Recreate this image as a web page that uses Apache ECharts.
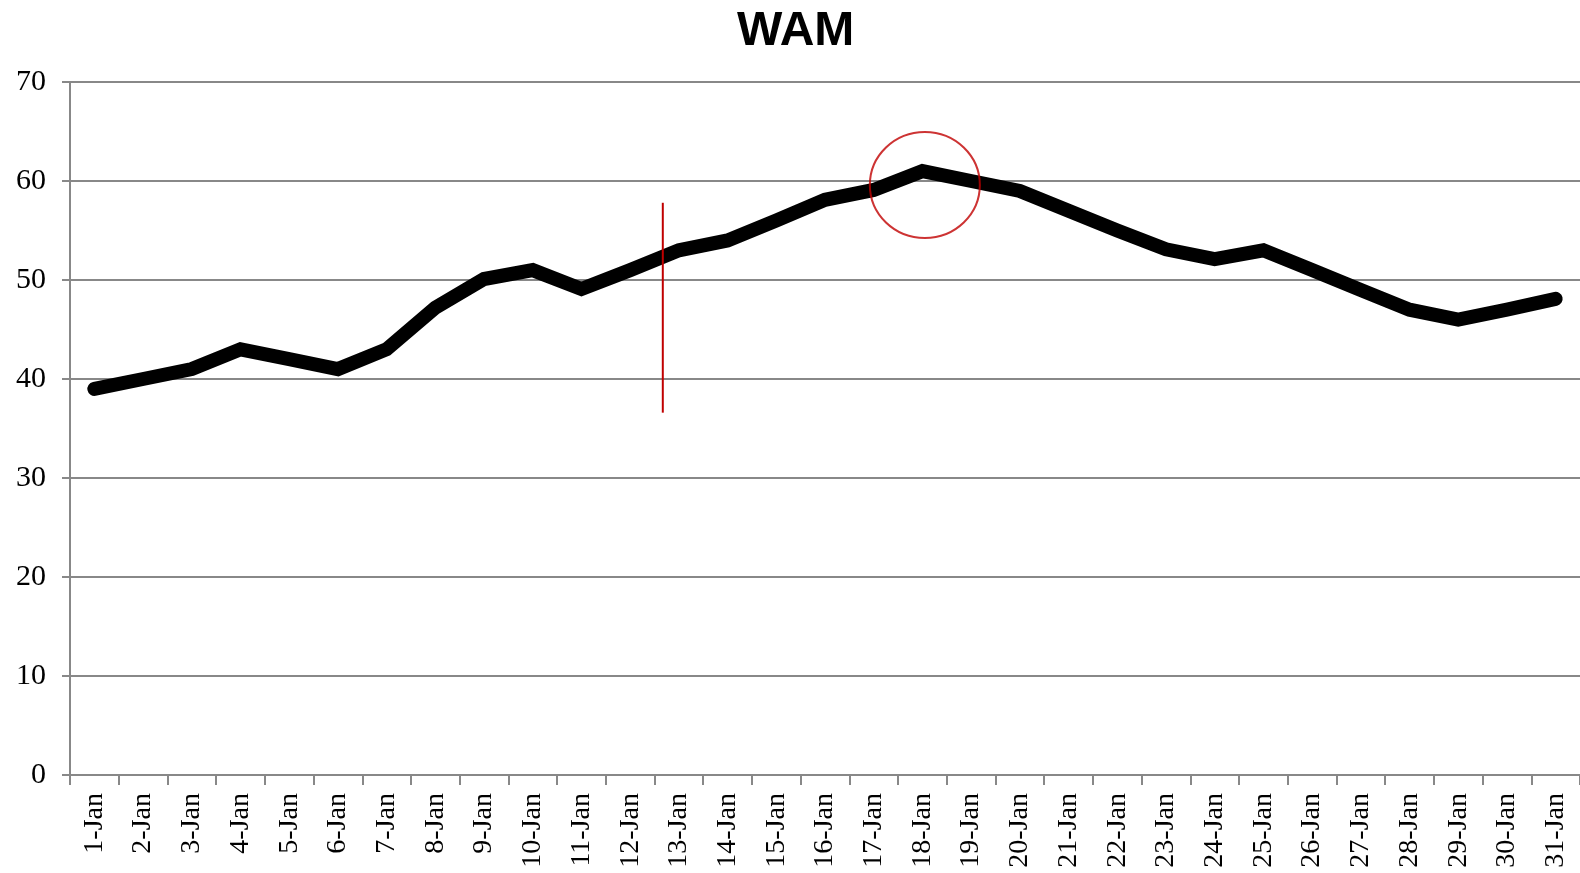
<!DOCTYPE html>
<html>
<head>
<meta charset="utf-8">
<title>WAM</title>
<script src="https://cdn.jsdelivr.net/npm/echarts@6/dist/echarts.min.js"></script>
<style>
  html, body { margin: 0; padding: 0; background: #fff; }
  #chart { width: 1580px; height: 873px; }
</style>
</head>
<body>
<div id="chart"></div>
<script>
// categories and values
const days = ['1-Jan', '2-Jan', '3-Jan', '4-Jan', '5-Jan', '6-Jan', '7-Jan', '8-Jan', '9-Jan', '10-Jan',
  '11-Jan', '12-Jan', '13-Jan', '14-Jan', '15-Jan', '16-Jan', '17-Jan', '18-Jan', '19-Jan', '20-Jan',
  '21-Jan', '22-Jan', '23-Jan', '24-Jan', '25-Jan', '26-Jan', '27-Jan', '28-Jan', '29-Jan', '30-Jan', '31-Jan'];
const wam = [39, 40, 41, 43, 42, 41, 43, 47.2, 50.1, 51, 49.1, 51, 53, 54, 56, 58.1, 59.1, 61, 60, 59,
  57, 55, 53.1, 52.1, 53, 51, 49, 47, 46, 47, 48.1];
// annotations (day number on a hidden value axis, WAM value)
const redLine = [[12.67, 57.8], [12.67, 36.6]];
const redCircle = [[18.05, 59.6]];

const chart = echarts.init(document.getElementById('chart'));
chart.setOption({
  backgroundColor: '#fff',
  animation: false,
  title: {
    text: 'WAM',
    left: 732,
    top: 3,
    textStyle: { fontFamily: 'Liberation Sans', fontWeight: 'bold', fontSize: 48, color: '#000' },
  },
  grid: { left: 70, right: 0, top: 82, bottom: 98, containLabel: false, outerBoundsMode: 'none' },
  xAxis: [{
    type: 'category',
    data: days,
    boundaryGap: true,
    axisLine: { lineStyle: { color: '#888', width: 2 } },
    axisTick: { show: true, length: 10, lineStyle: { color: '#888', width: 2 } },
    axisLabel: {
      rotate: 90, interval: 0, margin: 18, color: '#000',
      fontFamily: 'Liberation Serif', fontSize: 28,
    },
    splitLine: { show: false },
  }, {
    type: 'value',
    show: false,
    min: 0.5,
    max: 31.5,
  }],
  yAxis: {
    type: 'value',
    min: 0,
    max: 70,
    interval: 10,
    axisLine: { show: true, lineStyle: { color: '#888', width: 2 } },
    axisTick: { show: true, length: 8, lineStyle: { color: '#888', width: 2 } },
    axisLabel: { margin: 24, color: '#000', fontFamily: 'Liberation Serif', fontSize: 30 },
    splitLine: { show: true, lineStyle: { color: '#888', width: 2 } },
  },
  series: [{
    name: 'WAM',
    type: 'line',
    data: wam,
    symbol: 'none',
    lineStyle: { color: '#000', width: 14, cap: 'round', join: 'miter' },
    z: 2,
  }, {
    type: 'line',
    xAxisIndex: 1,
    data: redLine,
    symbol: 'none',
    lineStyle: { color: '#C00000', width: 2 },
    z: 3,
  }, {
    type: 'scatter',
    xAxisIndex: 1,
    data: redCircle,
    symbol: 'circle',
    symbolSize: [110, 106],
    itemStyle: { color: 'rgba(0,0,0,0)', borderColor: '#C00000', borderWidth: 2 },
    z: 4,
  }],
});
</script>
</body>
</html>
